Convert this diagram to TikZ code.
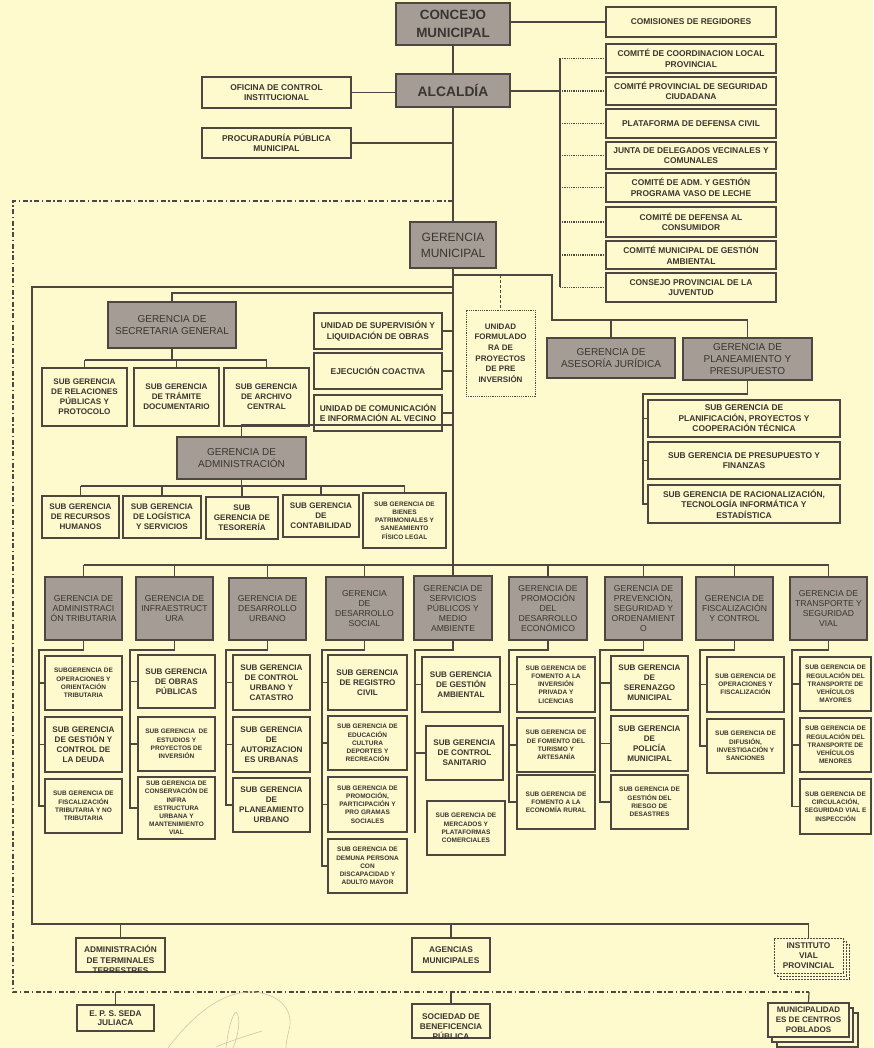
\documentclass[tikz,border=0pt]{standalone}
\usepackage{fontspec}
\setmainfont{Liberation Sans}

\definecolor{bgc}{HTML}{FFF9CE}
\definecolor{gfill}{HTML}{A59D95}
\definecolor{lnc}{HTML}{4E4741}
\definecolor{txc}{HTML}{3A3530}
\definecolor{sigc}{HTML}{CFC6A6}

\tikzset{
  nodebase/.style={draw=lnc, line width=1.1pt, inner sep=0pt, align=center, text=txc},
  gtop/.style={nodebase, fill=gfill, font=\fontsize{13.4}{17.5}\selectfont\bfseries},
  gmid/.style={nodebase, fill=gfill, font=\fontsize{12}{16}\selectfont},
  gsec/.style={nodebase, fill=gfill, font=\fontsize{10}{11.7}\selectfont},
  rowbox/.style={nodebase, fill=gfill, font=\fontsize{8.6}{10}\selectfont},
  wbox/.style={nodebase, fill=bgc, font=\fontsize{8.4}{10.6}\selectfont\bfseries},
  sbig/.style={nodebase, fill=bgc, font=\fontsize{8.1}{10}\selectfont\bfseries},
  ssmall/.style={nodebase, fill=bgc, font=\fontsize{6.5}{8.2}\selectfont\bfseries},
  wtext/.style={inner sep=0pt, align=center, text=txc, font=\fontsize{8.3}{10.4}\selectfont\bfseries},
  dotbox/.style={wbox, line width=0.8pt, dash pattern=on 1.2pt off 1pt, font=\fontsize{8}{10.6}\selectfont\bfseries},
  dashbox/.style={wbox, line width=0.9pt, dash pattern=on 2pt off 1pt},
  conn/.style={draw=lnc, line width=1.2pt},
  dotconn/.style={draw=lnc, line width=1.3pt, dash pattern=on 0.9pt off 0.9pt},
  dashconn/.style={draw=lnc, line width=1.1pt, dash pattern=on 3pt off 2pt},
  frameline/.style={draw=lnc, line width=1.1pt, dash pattern=on 5pt off 2.5pt on 1.5pt off 2.5pt},
  sigstroke/.style={draw=sigc, line width=0.6pt},
}

% box from its corner coordinates: style, name, x1, y1, x2, y2, text
\newcommand{\orgbox}[7]{%
  \node[#1, minimum width={(#5-#3)*1pt}, minimum height={(#6-#4)*1pt}]
    (#2) at ({(#3+#5)/2},{(#4+#6)/2}) {#7};}

\begin{document}
\begin{tikzpicture}[x=1pt, y=-1pt]
\fill[bgc] (0,0) rectangle (873,1048);
\useasboundingbox (0,0) rectangle (873,1048);

% ---------- top level ----------
\orgbox{gtop}{concejo}{396}{3}{510}{45}{CONCEJO\\MUNICIPAL}
\orgbox{wbox}{comisiones}{606}{7}{776}{37}{COMISIONES DE REGIDORES}
\orgbox{gtop, font=\fontsize{13.8}{17}\selectfont\bfseries}{alcaldia}{396}{74}{510}{107}{ALCALDÍA}
\orgbox{wbox}{oci}{202}{77}{351}{108}{OFICINA DE CONTROL\\INSTITUCIONAL}
\orgbox{wbox}{procu}{202}{128}{351}{158}{PROCURADURÍA PÚBLICA\\MUNICIPAL}

% committees
\orgbox{wbox}{c1}{606}{44}{776}{73}{COMITÉ DE COORDINACION LOCAL\\PROVINCIAL}
\orgbox{wbox}{c2}{606}{77}{776}{105}{COMITÉ PROVINCIAL DE SEGURIDAD\\CIUDADANA}
\orgbox{wbox}{c3}{606}{109}{776}{138}{PLATAFORMA DE DEFENSA CIVIL}
\orgbox{wbox}{c4}{606}{142}{776}{169}{JUNTA DE DELEGADOS VECINALES Y\\COMUNALES}
\orgbox{wbox}{c5}{606}{173}{776}{202}{COMITÉ DE ADM. Y GESTIÓN\\PROGRAMA VASO DE LECHE}
\orgbox{wbox}{c6}{606}{207}{776}{237}{COMITÉ DE DEFENSA AL\\CONSUMIDOR}
\orgbox{wbox}{c7}{606}{241}{776}{269}{COMITÉ MUNICIPAL DE GESTIÓN\\AMBIENTAL}
\orgbox{wbox}{c8}{606}{273}{776}{302}{CONSEJO PROVINCIAL DE LA\\JUVENTUD}

% ---------- gerencia municipal ----------
\orgbox{gmid}{gm}{410}{222}{496}{268}{GERENCIA\\MUNICIPAL}

\orgbox{gsec}{sec}{108}{302}{236}{348}{GERENCIA DE\\SECRETARIA GENERAL}
\orgbox{sbig}{r1}{42}{368}{127}{426}{SUB GERENCIA\\DE RELACIONES\\PÚBLICAS Y\\PROTOCOLO}
\orgbox{sbig}{r2}{134}{368}{219}{426}{SUB GERENCIA\\DE TRÁMITE\\DOCUMENTARIO}
\orgbox{sbig}{r3}{224}{368}{309}{426}{SUB GERENCIA\\DE ARCHIVO\\CENTRAL}

\orgbox{wbox}{u1}{314}{313}{442}{349}{UNIDAD DE SUPERVISIÓN Y\\LIQUIDACIÓN DE OBRAS}
\orgbox{wbox}{u2}{314}{353}{442}{389}{EJECUCIÓN COACTIVA}
\orgbox{wbox}{u3}{314}{395}{442}{431}{UNIDAD DE COMUNICACIÓN\\E INFORMACIÓN AL VECINO}
\orgbox{dotbox}{uf}{466}{310}{535}{396}{UNIDAD\\FORMULADO\\RA DE\\PROYECTOS\\DE PRE\\INVERSIÓN}

\orgbox{gsec}{ases}{547}{338}{675}{378}{GERENCIA DE\\ASESORÍA JURÍDICA}
\orgbox{gsec}{plan}{683}{338}{812}{380}{GERENCIA DE\\PLANEAMIENTO Y\\PRESUPUESTO}
\orgbox{wbox}{p1}{648}{400}{840}{437}{SUB GERENCIA DE\\PLANIFICACIÓN, PROYECTOS Y\\COOPERACIÓN TÉCNICA}
\orgbox{wbox}{p2}{648}{442}{840}{479}{SUB GERENCIA DE PRESUPUESTO Y\\FINANZAS}
\orgbox{wbox}{p3}{648}{485}{840}{523}{SUB GERENCIA DE RACIONALIZACIÓN,\\TECNOLOGÍA INFORMÁTICA Y\\ESTADÍSTICA}

\orgbox{gsec}{adm}{177}{437}{306}{479}{GERENCIA DE\\ADMINISTRACIÓN}
\orgbox{sbig}{a1}{42}{496}{119}{538}{SUB GERENCIA\\DE RECURSOS\\HUMANOS}
\orgbox{sbig}{a2}{123}{496}{201}{538}{SUB GERENCIA\\DE LOGÍSTICA\\Y SERVICIOS}
\orgbox{sbig}{a3}{206}{497}{278}{539}{SUB\\GERENCIA DE\\TESORERÍA}
\orgbox{sbig}{a4}{283}{495}{359}{537}{SUB GERENCIA\\DE\\CONTABILIDAD}
\orgbox{ssmall}{a5}{363}{493}{446}{548}{SUB GERENCIA DE\\BIENES\\PATRIMONIALES Y\\SANEAMIENTO\\FÍSICO LEGAL}

% ---------- row of line management ----------
\orgbox{rowbox}{g1}{45}{577}{122}{640}{GERENCIA DE\\ADMINISTRACI\\ÓN TRIBUTARIA}
\orgbox{rowbox}{g2}{136}{577}{213}{640}{GERENCIA DE\\INFRAESTRUCT\\URA}
\orgbox{rowbox}{g3}{229}{578}{306}{640}{GERENCIA DE\\DESARROLLO\\URBANO}
\orgbox{rowbox}{g4}{326}{577}{403}{640}{GERENCIA\\DE\\DESARROLLO\\SOCIAL}
\orgbox{rowbox}{g5}{414}{576}{492}{640}{GERENCIA DE\\SERVICIOS\\PÚBLICOS Y\\MEDIO\\AMBIENTE}
\orgbox{rowbox}{g6}{509}{577}{587}{640}{GERENCIA DE\\PROMOCIÓN\\DEL\\DESARROLLO\\ECONÓMICO}
\orgbox{rowbox}{g7}{605}{577}{682}{640}{GERENCIA DE\\PREVENCIÓN,\\SEGURIDAD Y\\ORDENAMIENT\\O}
\orgbox{rowbox}{g8}{696}{577}{773}{640}{GERENCIA DE\\FISCALIZACIÓN\\Y CONTROL}
\orgbox{rowbox}{g9}{790}{577}{867}{640}{GERENCIA DE\\TRANSPORTE Y\\SEGURIDAD\\VIAL}

% column 1
\orgbox{ssmall}{s11}{45}{656}{122}{710}{SUBGERENCIA DE\\OPERACIONES Y\\ORIENTACIÓN\\TRIBUTARIA}
\orgbox{sbig}{s12}{45}{717}{122}{772}{SUB GERENCIA\\DE GESTIÓN Y\\CONTROL DE\\LA DEUDA}
\orgbox{ssmall}{s13}{45}{779}{122}{833}{SUB GERENCIA DE\\FISCALIZACIÓN\\TRIBUTARIA Y NO\\TRIBUTARIA}
% column 2
\orgbox{sbig}{s21}{138}{655}{215}{708}{SUB GERENCIA\\DE OBRAS\\PÚBLICAS}
\orgbox{ssmall}{s22}{138}{717}{215}{771}{SUB GERENCIA~~DE\\ESTUDIOS Y\\PROYECTOS DE\\INVERSIÓN}
\orgbox{ssmall}{s23}{138}{777}{215}{839}{SUB GERENCIA DE\\CONSERVACIÓN DE\\INFRA\\ESTRUCTURA\\URBANA Y\\MANTENIMIENTO\\VIAL}
% column 3
\orgbox{sbig}{s31}{233}{655}{310}{710}{SUB GERENCIA\\DE CONTROL\\URBANO Y\\CATASTRO}
\orgbox{sbig}{s32}{233}{717}{310}{772}{SUB GERENCIA\\DE\\AUTORIZACION\\ES URBANAS}
\orgbox{sbig}{s33}{233}{778}{310}{832}{SUB GERENCIA\\DE\\PLANEAMIENTO\\URBANO}
% column 4
\orgbox{sbig}{s41}{328}{655}{407}{710}{SUB GERENCIA\\DE REGISTRO\\CIVIL}
\orgbox{ssmall}{s42}{328}{716}{407}{770}{SUB GERENCIA DE\\EDUCACIÓN\\CULTURA\\DEPORTES Y\\RECREACIÓN}
\orgbox{ssmall}{s43}{328}{777}{407}{832}{SUB GERENCIA DE\\PROMOCIÓN,\\PARTICIPACIÓN Y\\PRO GRAMAS\\SOCIALES}
\orgbox{ssmall}{s44}{328}{839}{407}{893}{SUB GERENCIA DE\\DEMUNA PERSONA\\CON\\DISCAPACIDAD Y\\ADULTO MAYOR}
% column 5
\orgbox{sbig}{s51}{422}{657}{500}{712}{SUB GERENCIA\\DE GESTIÓN\\AMBIENTAL}
\orgbox{sbig}{s52}{426}{726}{503}{780}{SUB GERENCIA\\DE CONTROL\\SANITARIO}
\orgbox{ssmall}{s53}{427}{801}{505}{855}{SUB GERENCIA DE\\MERCADOS Y\\PLATAFORMAS\\COMERCIALES}
% column 6
\orgbox{ssmall}{s61}{517}{657}{595}{712}{SUB GERENCIA DE\\FOMENTO A LA\\INVERSIÓN\\PRIVADA Y\\LICENCIAS}
\orgbox{ssmall}{s62}{517}{718}{595}{772}{SUB GERENCIA DE\\DE FOMENTO DEL\\TURISMO Y\\ARTESANÍA}
\orgbox{ssmall}{s63}{517}{775}{595}{829}{SUB GERENCIA DE\\FOMENTO A LA\\ECONOMÍA RURAL}
% column 7
\orgbox{sbig}{s71}{611}{656}{688}{710}{SUB GERENCIA\\DE\\SERENAZGO\\MUNICIPAL}
\orgbox{sbig}{s72}{611}{716}{688}{771}{SUB GERENCIA\\DE\\POLICÍA\\MUNICIPAL}
\orgbox{ssmall}{s73}{611}{775}{688}{829}{SUB GERENCIA DE\\GESTIÓN DEL\\RIESGO DE\\DESASTRES}
% column 8
\orgbox{ssmall}{s81}{707}{657}{784}{712}{SUB GERENCIA DE\\OPERACIONES Y\\FISCALIZACIÓN}
\orgbox{ssmall}{s82}{707}{719}{784}{773}{SUB GERENCIA DE\\DIFUSIÓN,\\INVESTIGACIÓN Y\\SANCIONES}
% column 9
\orgbox{ssmall}{s91}{800}{657}{871}{711}{SUB GERENCIA DE\\REGULACIÓN DEL\\TRANSPORTE DE\\VEHÍCULOS\\MAYORES}
\orgbox{ssmall}{s92}{800}{718}{871}{772}{SUB GERENCIA DE\\REGULACIÓN DEL\\TRANSPORTE DE\\VEHÍCULOS\\MENORES}
\orgbox{ssmall}{s93}{800}{779}{871}{834}{SUB GERENCIA DE\\CIRCULACIÓN,\\SEGURIDAD VIAL E\\INSPECCIÓN}

% ---------- bottom units ----------
\orgbox{wbox}{term}{76}{938}{165}{972}{}
\begin{scope}
  \clip (term.south west) rectangle (term.north east);
  \node[wtext] (termtext) at ([yshift=-4.5pt]term.center) {ADMINISTRACIÓN\\DE TERMINALES\\TERRESTRES};
\end{scope}
\orgbox{wbox, font=\fontsize{8.3}{11.3}\selectfont\bfseries}{agen}{412}{938}{490}{972}{AGENCIAS\\MUNICIPALES}

% stacked dashed box
\orgbox{dashbox}{ivp3}{780}{944}{849}{979}{}
\orgbox{dashbox}{ivp2}{777}{941}{846}{976}{}
\orgbox{dashbox, font=\fontsize{8.3}{10}\selectfont\bfseries}{ivp}{774}{938}{843}{973}{INSTITUTO\\VIAL\\PROVINCIAL}

\orgbox{wbox, font=\fontsize{8.3}{9.5}\selectfont\bfseries}{seda}{77}{1005}{154}{1031}{E. P. S. SEDA\\JULIACA}
\orgbox{wbox}{benef}{412}{1004}{490}{1038}{}
\begin{scope}
  \clip (benef.south west) rectangle (benef.north east);
  \node[wtext, font=\fontsize{8.3}{10}\selectfont\bfseries] (beneftext) at ([yshift=-6pt]benef.center) {SOCIEDAD DE\\BENEFICENCIA\\PÚBLICA};
\end{scope}
% stacked solid box
\orgbox{wbox}{mcp3}{777}{1013}{858}{1047}{}
\orgbox{wbox}{mcp2}{772}{1008}{853}{1042}{}
\orgbox{wbox, font=\fontsize{8}{9.8}\selectfont\bfseries}{mcp}{768}{1003}{849}{1037}{MUNICIPALIDAD\\ES DE CENTROS\\POBLADOS}

% ---------- reference coordinates for buses ----------
\coordinate (xCom) at (560,0);
\coordinate (yRight) at (0,275);
\coordinate (rb1) at (552,275);
\coordinate (rb2) at (552,320);
\coordinate (yLeft) at (0,287);
\coordinate (lb) at (32,287);
\coordinate (bb) at (32,924);
\coordinate (ySec) at (0,293);
\coordinate (ySecBus) at (0,360);
\coordinate (yAdm) at (0,425);
\coordinate (yAdmBus) at (0,486);
\coordinate (pb) at (643,394);
\coordinate (yRow) at (0,565);
\coordinate (sp1) at (39,650);
\coordinate (sp2) at (130,650);
\coordinate (sp3) at (226,650);
\coordinate (sp4) at (322,650);
\coordinate (sp5) at (415,650);
\coordinate (sp5end) at (415,833);
\coordinate (sp6) at (509,650);
\coordinate (sp7) at (600,650);
\coordinate (sp8) at (700,650);
\coordinate (sp9) at (792,650);
\coordinate (fr1) at (453,201);
\coordinate (fr2) at (13,201);
\coordinate (fr3) at (13,992);
\coordinate (fr4) at (809,992);

% ---------- connectors ----------
% main vertical
\draw[conn] (concejo.south) -- (alcaldia.north);
\draw[conn] (alcaldia.south) -- (gm.north);
\draw[conn] (gm.south) -- (g5.north);
\draw[conn] (concejo.east |- comisiones.west) -- (comisiones.west);
\draw[conn] (oci.east) -- (oci.east -| alcaldia.west);
\draw[conn] (procu.east) -- (procu.east -| alcaldia.south);

% committees
\draw[conn] (alcaldia.east |- c2.west) -- (xCom |- c2.west);
\draw[conn] (xCom |- c1.west) -- (xCom |- c8.west);
\foreach \c in {c1,c2,c3,c4,c5,c6,c7,c8}
  \draw[dotconn] (xCom |- \c.west) -- (\c.west);

% right branch
\draw[conn] (gm.south |- yRight) -- (rb1) -- (rb2) -| (plan.north);
\draw[conn] (rb2 -| ases.north) -- (ases.north);
\draw[dashconn] (uf.north |- yRight) -- (uf.north);
\draw[conn] (plan.south) |- (pb) |- (p3.west);
\draw[conn] (pb) |- (p1.west);
\draw[conn] (pb) |- (p2.west);

% secretaria general
\draw[conn] (gm.south |- ySec) -| (sec.north);
\draw[conn] (sec.south) -- (sec.south |- ySecBus);
\draw[conn] (r1.north |- ySecBus) -- (r3.north |- ySecBus);
\foreach \r in {r1,r2,r3}
  \draw[conn] (\r.north |- ySecBus) -- (\r.north);
\foreach \u in {u1,u2,u3}
  \draw[conn] (\u.east) -- (\u.east -| gm.south);

% administracion
\draw[conn] (gm.south |- yAdm) -| (adm.north);
\draw[conn] (adm.south) -- (adm.south |- yAdmBus);
\draw[conn] (a1.north |- yAdmBus) -- (a5.north |- yAdmBus);
\foreach \a in {a1,a2,a3,a4,a5}
  \draw[conn] (\a.north |- yAdmBus) -- (\a.north);

% row bus
\draw[conn] (g1.north |- yRow) -- (g9.north |- yRow);
\foreach \g in {g1,g2,g3,g4,g6,g7,g8,g9}
  \draw[conn] (\g.north |- yRow) -- (\g.north);

% column spines
\draw[conn] (g1.south) |- (sp1) |- (s13.west);
\draw[conn] (sp1) |- (s11.west);
\draw[conn] (sp1) |- (s12.west);
\draw[conn] (g2.south) |- (sp2) |- (s23.west);
\draw[conn] (sp2) |- (s21.west);
\draw[conn] (sp2) |- (s22.west);
\draw[conn] (g3.south) |- (sp3) |- (s33.west);
\draw[conn] (sp3) |- (s31.west);
\draw[conn] (sp3) |- (s32.west);
\draw[conn] (g4.south) |- (sp4) |- (s44.west);
\draw[conn] (sp4) |- (s41.west);
\draw[conn] (sp4) |- (s42.west);
\draw[conn] (sp4) |- (s43.west);
\draw[conn] (g5.south) |- (sp5) -- (sp5end);
\draw[conn] (sp5) |- (s51.west);
\draw[conn] (sp5) |- (s52.west);
\draw[conn] (g6.south) |- (sp6) |- (s63.west);
\draw[conn] (sp6) |- (s61.west);
\draw[conn] (sp6) |- (s62.west);
\draw[conn] (g7.south) |- (sp7) |- (s73.west);
\draw[conn] (sp7) |- (s71.west);
\draw[conn] (sp7) |- (s72.west);
\draw[conn] (g8.south) |- (sp8) |- (s82.west);
\draw[conn] (sp8) |- (s81.west);
\draw[conn] (g9.south) |- (sp9) |- (s93.west);
\draw[conn] (sp9) |- (s91.west);
\draw[conn] (sp9) |- (s92.west);

% outer left bus and bottom units
\draw[conn] (gm.south |- yLeft) -- (lb) -- (bb) -| (ivp.north);
\draw[conn] (term.north |- bb) -- (term.north);
\draw[conn] (agen.north |- bb) -- (agen.north);

% dash-dot boundary and units outside it
\draw[frameline] (fr1) -- (fr2) -- (fr3) -- (fr4);
\draw[conn] (fr4) -- (mcp.north);
\draw[conn] (seda.north |- fr3) -- (seda.north);
\draw[conn] (benef.north |- fr3) -- (benef.north);

% handwritten signature stroke
\draw[sigstroke] (168,1048) .. controls (195,1012) and (225,990) .. (255,992) .. controls (282,995) and (294,1012) .. (289,1030) .. controls (287,1038) and (286,1044) .. (286,1048);
\draw[sigstroke] (226,1048) .. controls (228,1030) and (232,1015) .. (236,1012) .. controls (241,1016) and (239,1034) .. (233,1048);
\draw[sigstroke] (216,1047) .. controls (230,1041) and (246,1036) .. (262,1031);
\end{tikzpicture}
\end{document}
